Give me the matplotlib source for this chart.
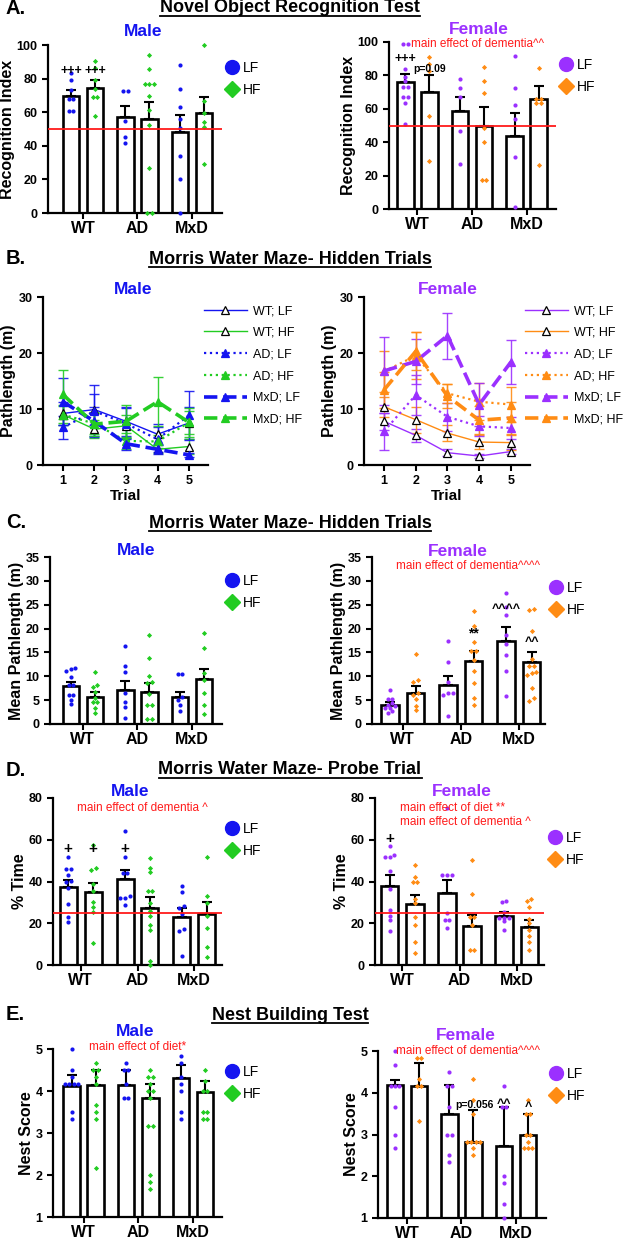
import numpy as np
import matplotlib
matplotlib.use('Agg')
import matplotlib.pyplot as plt
from matplotlib.lines import Line2D

plt.rcParams['font.family'] = ['Liberation Sans', 'DejaVu Sans']

# ---------------- data ----------------
groups = ['WT', 'AD', 'MxD']
# bar order: WT LF, WT HF, AD LF, AD HF, MxD LF, MxD HF

nor_m_mean = [69.8, 74.6, 57.0, 56.0, 48.4, 59.5]
nor_m_sem = [3.6, 4.6, 6.9, 10.3, 10.1, 9.7]
nor_m_pts = [[83.5, 79, 73, 68, 68, 61, 61],
             [90.5, 86.5, 79, 73.8, 68.8, 68.8, 58],
             [72.8, 72.8, 55, 45.4, 41.9],
             [94, 86, 76.6, 76.6, 76.6, 69.6, 61.5, 52.2, 26.6, 0, 0],
             [88, 74, 62.9, 56, 50.8, 34, 20, 0],
             [100, 66.7, 59.7, 54.2, 51.4, 29.2]]

nor_f_mean = [75.8, 70.0, 58.4, 49.8, 44.0, 66.0]
nor_f_sem = [4.8, 10.0, 8.6, 11.2, 13.6, 7.6]
nor_f_pts = [[99, 99, 84, 79, 76.4, 72.8, 72.8, 66.8, 66.8, 63.2, 50.8],
             [91, 86.8, 82.6, 55.8, 28.8],
             [78, 72.6, 67, 47, 26.8],
             [85, 76.4, 69.6, 48.8, 40.4, 17.4, 17.4],
             [91.4, 72.6, 62.4, 53.8, 31.4, 1],
             [84.2, 65.8, 65.8, 63.4, 63.4, 26.6]]

trials = [1, 2, 3, 4, 5]
series_names = ['WT; LF', 'WT; HF', 'AD; LF', 'AD; HF', 'MxD; LF', 'MxD; HF']
mwm_m_mean = [[9.2, 9.9, 7.8, 5.5, 7.5],
              [9.0, 6.4, 7.0, 2.8, 3.3],
              [6.7, 9.6, 7.4, 4.6, 8.9],
              [9.0, 7.4, 4.3, 4.2, 7.6],
              [11.3, 7.8, 3.8, 2.8, 1.8],
              [12.6, 7.3, 7.8, 11.3, 7.6]]
mwm_m_sem = [[2.0, 2.7, 2.6, 1.8, 2.8],
             [1.5, 1.6, 2.0, 0.7, 1.3],
             [2.0, 4.6, 2.8, 2.2, 4.4],
             [1.8, 1.9, 1.4, 1.2, 2.0],
             [4.2, 2.6, 1.1, 0.8, 0.4],
             [4.4, 2.2, 3.0, 4.4, 2.6]]
mwm_f_mean = [[7.8, 5.3, 2.2, 1.6, 2.4],
              [10.4, 8.1, 5.7, 4.1, 4.0],
              [6.0, 12.5, 8.6, 6.9, 6.6],
              [16.7, 19.5, 12.8, 11.3, 10.8],
              [16.8, 18.5, 23.1, 10.8, 18.4],
              [13.4, 20.3, 12.3, 8.0, 8.4]]
mwm_f_sem = [[1.5, 1.2, 0.6, 0.4, 0.5],
             [1.8, 2.3, 1.5, 1.3, 1.4],
             [3.3, 3.6, 2.5, 1.8, 1.9],
             [3.6, 4.2, 1.7, 3.3, 3.1],
             [6.0, 4.0, 4.1, 3.8, 3.9],
             [3.2, 3.4, 2.2, 2.5, 2.8]]

path_m_mean = [7.9, 5.6, 7.2, 6.8, 5.6, 9.4]
path_m_sem = [1.0, 1.1, 1.9, 1.8, 1.2, 2.1]
path_m_pts = [[11.8, 11.6, 11.2, 9.9, 8.2, 8.2, 6.1, 6.1, 5.1, 4.2],
              [10.9, 8.2, 7.7, 6.8, 5.4, 4.7, 4.7, 3.3, 2.4],
              [16.4, 12.2, 11.0, 6.5, 4.6, 3.5, 1.3],
              [18.7, 13.9, 10.0, 8.8, 8.6, 6.3, 3.9, 3.9, 1.0, 1.0],
              [10.4, 10.4, 5.6, 5.1, 4.0, 2.8],
              [19.1, 15.9, 10.6, 9.2, 6.4, 4.0, 2.0]]

path_f_mean = [4.0, 6.5, 8.1, 13.3, 17.5, 12.9]
path_f_sem = [0.7, 1.4, 1.9, 2.0, 2.9, 2.1]
path_f_pts = [[7.2, 5.3, 5.3, 4.5, 4.0, 3.8, 3.3, 3.3, 2.8, 2.4],
              [14.7, 9.3, 8.7, 6.5, 6.1, 5.2, 3.7, 3.0],
              [17.4, 12.9, 8.7, 6.5, 6.5, 6.0, 1.7],
              [23.7, 20.6, 17.1, 15.3, 15.3, 13.4, 11.1, 8.5, 5.4, 4.0],
              [27.4, 24.6, 22.9, 18.6, 16.7, 14.5, 11.2, 5.8],
              [24.2, 23.8, 19.4, 13.6, 12.2, 12.2, 10.8, 10.6, 10.2, 7.6, 5.4, 4.9]]

probe_m_mean = [37.2, 35.1, 41.0, 27.5, 23.2, 24.3]
probe_m_sem = [3.5, 4.1, 4.6, 4.9, 4.3, 5.9]
probe_m_pts = [[51.8, 45.9, 45.9, 42.9, 40.4, 39.6, 36.7, 29.2, 22.8, 20.6],
               [57.7, 46.7, 45.4, 38.8, 35.6, 30.3, 27.6, 25.2, 10.7],
               [64.1, 51.5, 43.9, 43.9, 33.2, 32.2, 32.2, 28.7],
               [51.3, 46.6, 44.6, 35.4, 35.4, 29.5, 26.0, 23.5, 19.3, 16.8, 2.0, 0.0],
               [37.8, 35.1, 28.4, 27.1, 24.3, 17.1, 16.5, 4.4],
               [51.5, 33.0, 29.8, 23.5, 17.6, 8.8, 4.0]]

probe_f_mean = [38.0, 29.0, 34.6, 18.6, 23.4, 18.1]
probe_f_sem = [5.0, 4.3, 6.3, 5.2, 2.0, 3.6]
probe_f_pts = [[57, 52.7, 51.6, 51.6, 45.2, 36.5, 26.5, 23.3, 21.7, 16.2],
               [48, 42, 40, 40, 31.4, 29.5, 23.2, 19.4, 11, 5.9],
               [75, 43, 43, 43, 25, 21.7, 21.7, 17.8],
               [50.2, 33.9, 23.2, 23.2, 19.2, 7.3, 7.3],
               [30.8, 30.3, 25.2, 22.6, 22.6, 22.6, 21, 17],
               [31.4, 30.7, 27.9, 22, 20.3, 16.8, 13.9, 10.8, 7.1]]

nest_m_mean = [4.12, 4.15, 4.15, 3.83, 4.32, 3.98]
nest_m_sem = [0.25, 0.35, 0.35, 0.34, 0.30, 0.26]
nest_m_pts = [[5.0, 4.5, 4.33, 4.17, 4.17, 4.17, 4.17, 3.5, 3.33],
              [4.67, 4.5, 4.5, 4.33, 4.17, 3.67, 3.5, 3.33, 2.17],
              [4.67, 4.5, 4.5, 4.17, 3.83, 3.83],
              [4.5, 4.33, 4.33, 4.17, 4.0, 4.0, 3.83, 3.17, 3.17, 2.0, 1.83, 1.67],
              [4.83, 4.67, 4.33, 4.17, 4.0, 3.5, 3.33],
              [4.5, 4.25, 4.0, 4.0, 3.5, 3.5, 3.33, 3.33]]

nest_f_mean = [4.18, 4.16, 3.48, 2.81, 2.73, 2.98]
nest_f_sem = [0.12, 0.56, 0.70, 0.77, 0.94, 0.51]
nest_f_pts = [[5.0, 4.67, 4.17, 4.17, 4.17, 3.67, 3.0, 2.67],
              [4.83, 4.83, 4.33, 4.17, 4.17, 3.33],
              [4.5, 4.17, 4.17, 3.67, 3.0, 3.0, 2.5, 2.33],
              [4.33, 3.83, 3.5, 2.83, 2.83, 2.83, 2.83, 2.67, 2.5],
              [4.17, 3.67, 3.67, 2.0, 1.83, 1.33, 1.0],
              [3.83, 3.5, 3.5, 3.0, 3.0, 2.83, 2.67, 2.67, 2.67]]

# ---------------- style ----------------
BLUE = '#1414f0'
GREEN = '#22cc22'
PURPLE = '#9b30ff'
ORANGE = '#ff8c14'
RED = '#ff1a1a'
MALE = (BLUE, GREEN)
FEMALE = (PURPLE, ORANGE)

W, H = 626, 1240
fig = plt.figure(figsize=(W / 100, H / 100), dpi=100)


def px_axes(x0, x1, y0, y1):
    return fig.add_axes([x0 / W, 1 - y1 / H, (x1 - x0) / W, (y1 - y0) / H])


def prism_axes(ax):
    for s in ['top', 'right']:
        ax.spines[s].set_visible(False)
    for s in ['left', 'bottom']:
        ax.spines[s].set_linewidth(1.6)
    ax.tick_params(width=1.5, length=4, labelsize=9)
    for lab in ax.get_yticklabels() + ax.get_xticklabels():
        lab.set_fontweight('bold')


def spread(vals, tol, step):
    """x offsets so that close values sit side by side"""
    vals = np.asarray(vals, dtype=float)
    order = np.argsort(vals)
    offs = np.zeros(len(vals))
    i = 0
    while i < len(order):
        j = i
        while j + 1 < len(order) and vals[order[j + 1]] - vals[order[i]] < tol:
            j += 1
        n = j - i + 1
        for k in range(n):
            offs[order[i + k]] = (k - (n - 1) / 2) * step
        i = j + 1
    return offs


def add_legend(ax, colors, x, y, fs=10):
    handles = [Line2D([], [], ls='none', marker='o', ms=10, color=colors[0], label='LF'),
               Line2D([], [], ls='none', marker='D', ms=8.5, color=colors[1], label='HF')]
    ax.legend(handles=handles, loc='upper left', bbox_to_anchor=(x / W, 1 - y / H),
              bbox_transform=fig.transFigure, frameon=False, fontsize=fs,
              handlelength=0.8, handletextpad=0.4, labelspacing=0.6, borderpad=0,
              borderaxespad=0)


def bar_panel(box, xlim, ylim, yticks, means, sems, pts, colors, ylabel, legend_xy,
              refline=None, off=0.22, width=0.3):
    ax = px_axes(*box)
    x = np.repeat(np.arange(3), 2) + np.tile([-off, off], 3)
    ax.bar(x, np.array(means) - ylim[0], width=width, bottom=ylim[0], color='white',
           edgecolor='black', linewidth=1.9, zorder=2)
    ax.errorbar(x, means, yerr=[np.zeros(6), sems], fmt='none', ecolor='black',
                elinewidth=1.5, capsize=3.5, capthick=1.5, zorder=3)
    tol = (ylim[1] - ylim[0]) * 0.02
    for i, vals in enumerate(pts):
        c = colors[i % 2]
        mk = 'o' if i % 2 == 0 else 'D'
        ms = 9 if i % 2 == 0 else 7
        xs = x[i] + spread(vals, tol, 0.08)
        ax.scatter(xs, vals, s=ms, marker=mk, color=c, linewidths=0, zorder=4, clip_on=False)
    if refline is not None:
        ax.axhline(refline, color=RED, lw=1.3, zorder=5)
    ax.set_xlim(*xlim)
    ax.set_ylim(*ylim)
    ax.set_yticks(yticks)
    ax.set_xticks(range(3))
    ax.set_xticklabels(groups)
    ax.set_ylabel(ylabel, fontsize=11.5, fontweight='bold', labelpad=1)
    prism_axes(ax)
    ax.tick_params(axis='x', labelsize=11.5, pad=2)
    add_legend(ax, colors, *legend_xy)
    return ax, x


def line_panel(box, means, sems, colors, legend_xy):
    ax = px_axes(*box)
    styles = [('-', 1.0, True), ('-', 1.0, True), (':', 1.6, False), (':', 1.6, False),
              ('--', 2.6, False), ('--', 2.6, False)]
    handles = []
    for i, (m, e) in enumerate(zip(means, sems)):
        c = colors[i % 2]
        ls, lw, open_mk = styles[i]
        ax.errorbar(trials, m, yerr=e, fmt='none', ecolor=c, elinewidth=1.0,
                    capsize=3.5, capthick=1.0, zorder=2, alpha=0.9)
        ln, = ax.plot(trials, m, ls=ls, lw=lw, color=c, marker='^', ms=6,
                      mfc='white' if open_mk else c, mec='black' if open_mk else c,
                      mew=0.9, zorder=3, label=series_names[i])
        handles.append(ln)
    ax.set_xlim(0.37, 5.6)
    ax.set_ylim(0, 30)
    ax.set_yticks([0, 10, 20, 30])
    ax.set_xticks(trials)
    ax.set_xlabel('Trial', fontsize=11, fontweight='bold', labelpad=1)
    ax.set_ylabel('Pathlength (m)', fontsize=11.5, fontweight='bold', labelpad=2)
    prism_axes(ax)
    x, y = legend_xy
    ax.legend(handles=handles, loc='upper left', bbox_to_anchor=(x / W, 1 - y / H),
              bbox_transform=fig.transFigure, frameon=False, fontsize=9,
              handlelength=3.4, handletextpad=0.5, labelspacing=0.78, borderpad=0,
              borderaxespad=0)
    return ax


def note(ax, xb, y, s, fs=10, color='black', weight='bold'):
    ax.text(xb, y, s, ha='center', va='center', fontsize=fs, color=color,
            fontweight=weight, zorder=6)


def red_note(ax, xfrac, y, s, ha='center'):
    ax.text(xfrac, y, s, transform=ax.get_yaxis_transform(), ha=ha, va='center',
            fontsize=8.5, color=RED, zorder=6)


# ---------------- headers ----------------
headers = [('A.', 'Novel Object Recognition Test', 8),
           ('B.', 'Morris Water Maze- Hidden Trials', 259),
           ('C.', 'Morris Water Maze- Hidden Trials', 523),
           ('D.', 'Morris Water Maze- Probe Trial', 770),
           ('E.', 'Nest Building Test', 1015)]
title_texts = []
for letter, title, y in headers:
    fig.text(6 / W, 1 - y / H, letter, fontsize=14.5, fontweight='bold', va='center')
    t = fig.text(290 / W, 1 - y / H, title, fontsize=13, fontweight='bold',
                 ha='center', va='center')
    title_texts.append(t)

sex_titles = [(143, 32, 479, 30), (133, 290, 448, 290), (136, 550, 458, 551),
              (130, 792, 462, 792), (135, 1032, 466, 1035)]
for mx, my, fx, fy in sex_titles:
    fig.text(mx / W, 1 - my / H, 'Male', color=BLUE, fontsize=12.5, fontweight='bold',
             ha='center', va='center')
    fig.text(fx / W, 1 - fy / H, 'Female', color=PURPLE, fontsize=12.5, fontweight='bold',
             ha='center', va='center')

# ---------------- A ----------------
ax, xb = bar_panel((48, 222, 45, 213), (-0.64, 2.55), (0, 100), range(0, 101, 20),
                   nor_m_mean, nor_m_sem, nor_m_pts, MALE, 'Recognition Index',
                   (226, 61), refline=50)
note(ax, xb[0], 84.7, '+++', fs=9)
note(ax, xb[1], 84.7, '+++', fs=9)

ax, xb = bar_panel((389, 556, 42, 209), (-0.52, 2.54), (0, 100), range(0, 101, 20),
                   nor_f_mean, nor_f_sem, nor_f_pts, FEMALE, 'Recognition Index',
                   (560, 58), refline=50)
note(ax, xb[0], 90, '+++', fs=9)
note(ax, xb[1], 83.8, 'p=0.09', fs=7.5)
red_note(ax, 0.53, 99, 'main effect of dementia^^')

# ---------------- B ----------------
line_panel((43, 208, 297, 465), mwm_m_mean, mwm_m_sem, MALE, (204, 305))
line_panel((364, 530, 297, 465), mwm_f_mean, mwm_f_sem, FEMALE, (525, 305))

# ---------------- C ----------------
ax, xb = bar_panel((50, 222, 557, 724), (-0.6, 2.55), (0, 35), range(0, 36, 5),
                   path_m_mean, path_m_sem, path_m_pts, MALE, 'Mean Pathlength (m)',
                   (226, 574))

ax, xb = bar_panel((372, 545, 557, 724), (-0.53, 2.45), (0, 35), range(0, 36, 5),
                   path_f_mean, path_f_sem, path_f_pts, FEMALE, 'Mean Pathlength (m)',
                   (550, 581))
red_note(ax, 0.555, 33.2, 'main effect of dementia^^^^')
note(ax, xb[3], 18.9, '**', fs=10)
note(ax, xb[4], 24.1, '^^^^', fs=9)
note(ax, xb[5], 17.1, '^^', fs=9)

# ---------------- D ----------------
ax, xb = bar_panel((53, 222, 798, 965), (-0.49, 2.49), (0, 80), range(0, 81, 20),
                   probe_m_mean, probe_m_sem, probe_m_pts, MALE, '% Time',
                   (226, 822), refline=25)
for i in range(3):
    note(ax, xb[i], 55.8, '+', fs=11)
red_note(ax, 0.53, 75.4, 'main effect of dementia ^')

ax, xb = bar_panel((375, 544, 798, 965), (-0.48, 2.48), (0, 80), range(0, 81, 20),
                   probe_f_mean, probe_f_sem, probe_f_pts, FEMALE, '% Time',
                   (549, 831), refline=25)
note(ax, xb[0], 60.5, '+', fs=11)
red_note(ax, 0.15, 75, 'main effect of diet **', ha='left')
red_note(ax, 0.15, 68.6, 'main effect of dementia ^', ha='left')

# ---------------- E ----------------
ax, xb = bar_panel((53, 222, 1049, 1217), (-0.56, 2.53), (1, 5), range(1, 6),
                   nest_m_mean, nest_m_sem, nest_m_pts, MALE, 'Nest Score',
                   (226, 1065))
red_note(ax, 0.50, 5.04, 'main effect of diet*')

ax, xb = bar_panel((378, 546, 1051, 1218), (-0.53, 2.55), (1, 5), range(1, 6),
                   nest_f_mean, nest_f_sem, nest_f_pts, FEMALE, 'Nest Score',
                   (550, 1067))
red_note(ax, 0.535, 5.0, 'main effect of dementia^^^^')
ax.text(0.577, 3.7, 'p=0.056', transform=ax.get_yaxis_transform(), ha='center',
        va='center', fontsize=7.5, fontweight='bold', zorder=6)
note(ax, xb[4], 3.72, '^^', fs=9)
note(ax, xb[5], 3.65, '^', fs=9)

# underline the section headers
renderer = fig.canvas.get_renderer()
for t in title_texts:
    bb = t.get_window_extent(renderer)
    fig.add_artist(Line2D([bb.x0 / W, bb.x1 / W], [(bb.y0 + 1) / H] * 2,
                          transform=fig.transFigure, color='black', lw=1.3))

fig.savefig('out.png', dpi=100)
